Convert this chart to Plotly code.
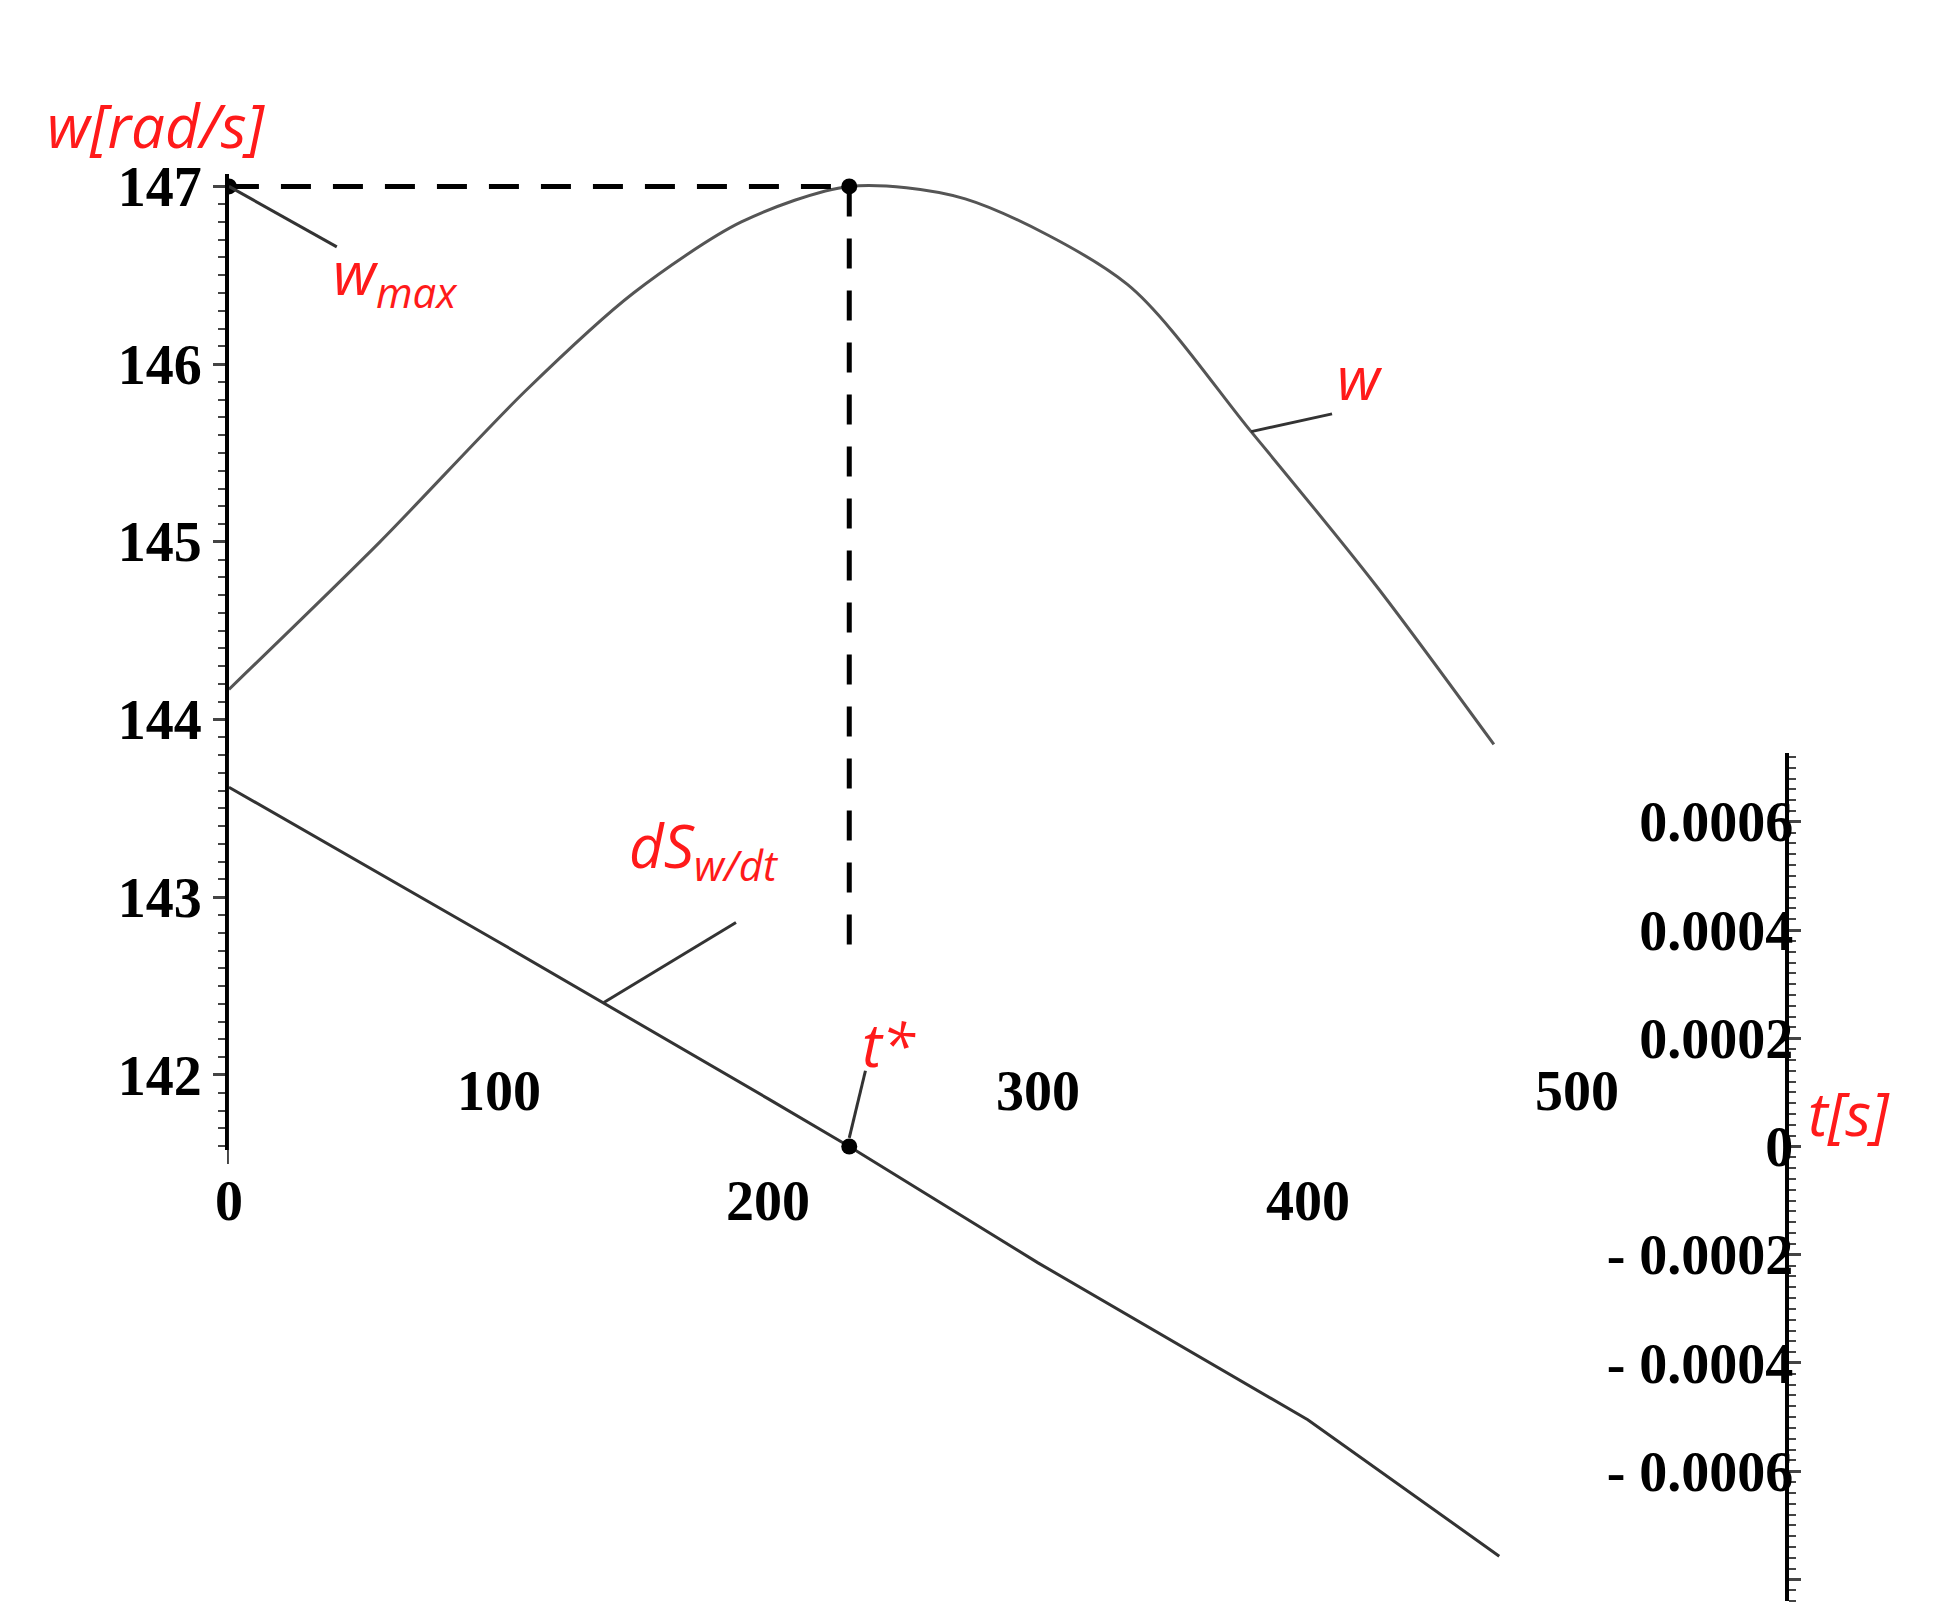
import plotly.graph_objects as go

# angular speed w(t)
t_w = [0, 56, 110, 150, 190, 230, 273, 333, 379, 425, 469]
w = [144.17, 145.0, 145.85, 146.4, 146.8, 147.0, 146.93, 146.45, 145.62, 144.76, 143.86]

# dS_w/dt (right axis)
t_ds = [0, 100, 200, 230, 300, 400, 471]
ds = [0.000664, 0.000378, 0.000088, 0.0, -0.000215, -0.000505, -0.000757]

t_star = 230
w_max = 147
left_ticks = [142, 143, 144, 145, 146, 147]
right_vals = [-0.0008, -0.0006, -0.0004, -0.0002, 0, 0.0002, 0.0004, 0.0006]
right_text = ["-0.0008", "- 0.0006", "- 0.0004", "- 0.0002", "0", "0.0002", "0.0004", "0.0006"]
x_labels_up = [100, 300, 500]
x_labels_down = [0, 200, 400]

RED = "#ff1a1a"
num_font = dict(family="Liberation Serif", size=56, color="black")
red_font = dict(family="Open Sans", size=60, color=RED)

Y_DOM = [0.296, 0.907]
Y_RNG = [141.6, 147.07]


def ypaper(v):
    return Y_DOM[0] + (v - Y_RNG[0]) / (Y_RNG[1] - Y_RNG[0]) * (Y_DOM[1] - Y_DOM[0])


fig = go.Figure()
fig.add_trace(go.Scatter(x=t_w, y=w, mode="lines", line=dict(color="#555", width=3, shape="spline", smoothing=0.8)))
fig.add_trace(go.Scatter(x=t_ds, y=ds, yaxis="y2", mode="lines", line=dict(color="#333", width=3)))
fig.add_trace(go.Scatter(x=[0, t_star], y=[w_max, w_max], mode="lines", line=dict(color="black", width=5, dash="30px,22px")))
fig.add_trace(go.Scatter(x=[0, t_star], y=[w_max, w_max], mode="markers", marker=dict(color="black", size=16)))
fig.add_trace(go.Scatter(x=[t_star], y=[0], yaxis="y2", mode="markers", marker=dict(color="black", size=16)))

# vertical dashed guide (paper y to avoid clipping)
fig.add_shape(type="line", xref="x", yref="paper", x0=t_star, x1=t_star, y0=ypaper(w_max), y1=ypaper(142.72),
              line=dict(color="black", width=5, dash="30px,22px"))

# pointer lines
fig.add_shape(type="line", xref="x", yref="y", x0=0, y0=147, x1=40, y1=146.66, line=dict(color="#333", width=3))
fig.add_shape(type="line", xref="x", yref="y", x0=379, y0=145.62, x1=409, y1=145.72, line=dict(color="#333", width=3))
fig.add_shape(type="line", xref="x", yref="y2", x0=139, y0=0.000266, x1=188, y1=0.000414, line=dict(color="#333", width=3))
fig.add_shape(type="line", xref="x", yref="y2", x0=230, y0=0.000016, x1=236, y1=0.00014, line=dict(color="#333", width=3))

ann = []
ann.append(dict(xref="paper", yref="paper", x=0.019, y=0.965, text="<i>w[rad/s]</i>", xanchor="left", font=red_font))
ann.append(dict(xref="x", yref="y", x=38, y=146.5, text="<i>w<sub>max</sub></i>", xanchor="left", font=red_font))
ann.append(dict(xref="x", yref="y", x=410, y=145.93, text="<i>w</i>", xanchor="left", font=red_font))
ann.append(dict(xref="x", yref="y2", x=176, y=0.00055, text="<i>dS<sub>w/dt</sub></i>", font=red_font))
ann.append(dict(xref="x", yref="y2", x=234, y=0.00019, text="<i>t*</i>", xanchor="left", font=red_font))
ann.append(dict(xref="paper", yref="paper", x=0.928, y=0.29, text="<i>t[s]</i>", xanchor="left", font=red_font))
for v in x_labels_up:
    ann.append(dict(xref="x", yref="y", x=v, y=141.6, text="<b>%d</b>" % v, yshift=55, font=num_font))
for v in x_labels_down:
    ann.append(dict(xref="x", yref="y", x=v, y=141.6, text="<b>%d</b>" % v, yshift=-55, font=num_font))
for a in ann:
    a.setdefault("showarrow", False)

fig.update_layout(
    width=1938, height=1609, showlegend=False,
    plot_bgcolor="white", paper_bgcolor="white",
    margin=dict(l=0, r=0, t=0, b=0),
    annotations=ann,
    xaxis=dict(domain=[0.114, 0.917], range=[0, 577], anchor="y", showgrid=False, zeroline=False,
               showline=True, linecolor="black", linewidth=4, showticklabels=False,
               ticks="outside", tickvals=[0, 100, 200, 300, 400, 500], ticklen=14, tickwidth=3,
               minor=dict(dtick=20, ticks="outside", ticklen=8, tickwidth=3)),
    yaxis=dict(domain=Y_DOM, range=Y_RNG, showgrid=False, zeroline=False,
               showline=True, linecolor="black", linewidth=4, tickvals=left_ticks,
               ticktext=["<b>%d</b>" % v for v in left_ticks], tickfont=num_font,
               ticks="outside", ticklen=12, tickwidth=3,
               minor=dict(dtick=0.1, ticks="outside", ticklen=7, tickwidth=2)),
    yaxis2=dict(domain=[0.01, 0.543], range=[-0.00084, 0.000727], anchor="x", side="right",
                showgrid=False, zeroline=False, showline=True, linecolor="black", linewidth=4,
                tickvals=right_vals, ticktext=["<b>%s</b>" % s for s in right_text], tickfont=num_font,
                ticklabelposition="inside", ticks="outside", ticklen=12, tickwidth=3,
                minor=dict(dtick=0.00002, ticks="outside", ticklen=7, tickwidth=2)),
)

fig.write_html("out.html")
